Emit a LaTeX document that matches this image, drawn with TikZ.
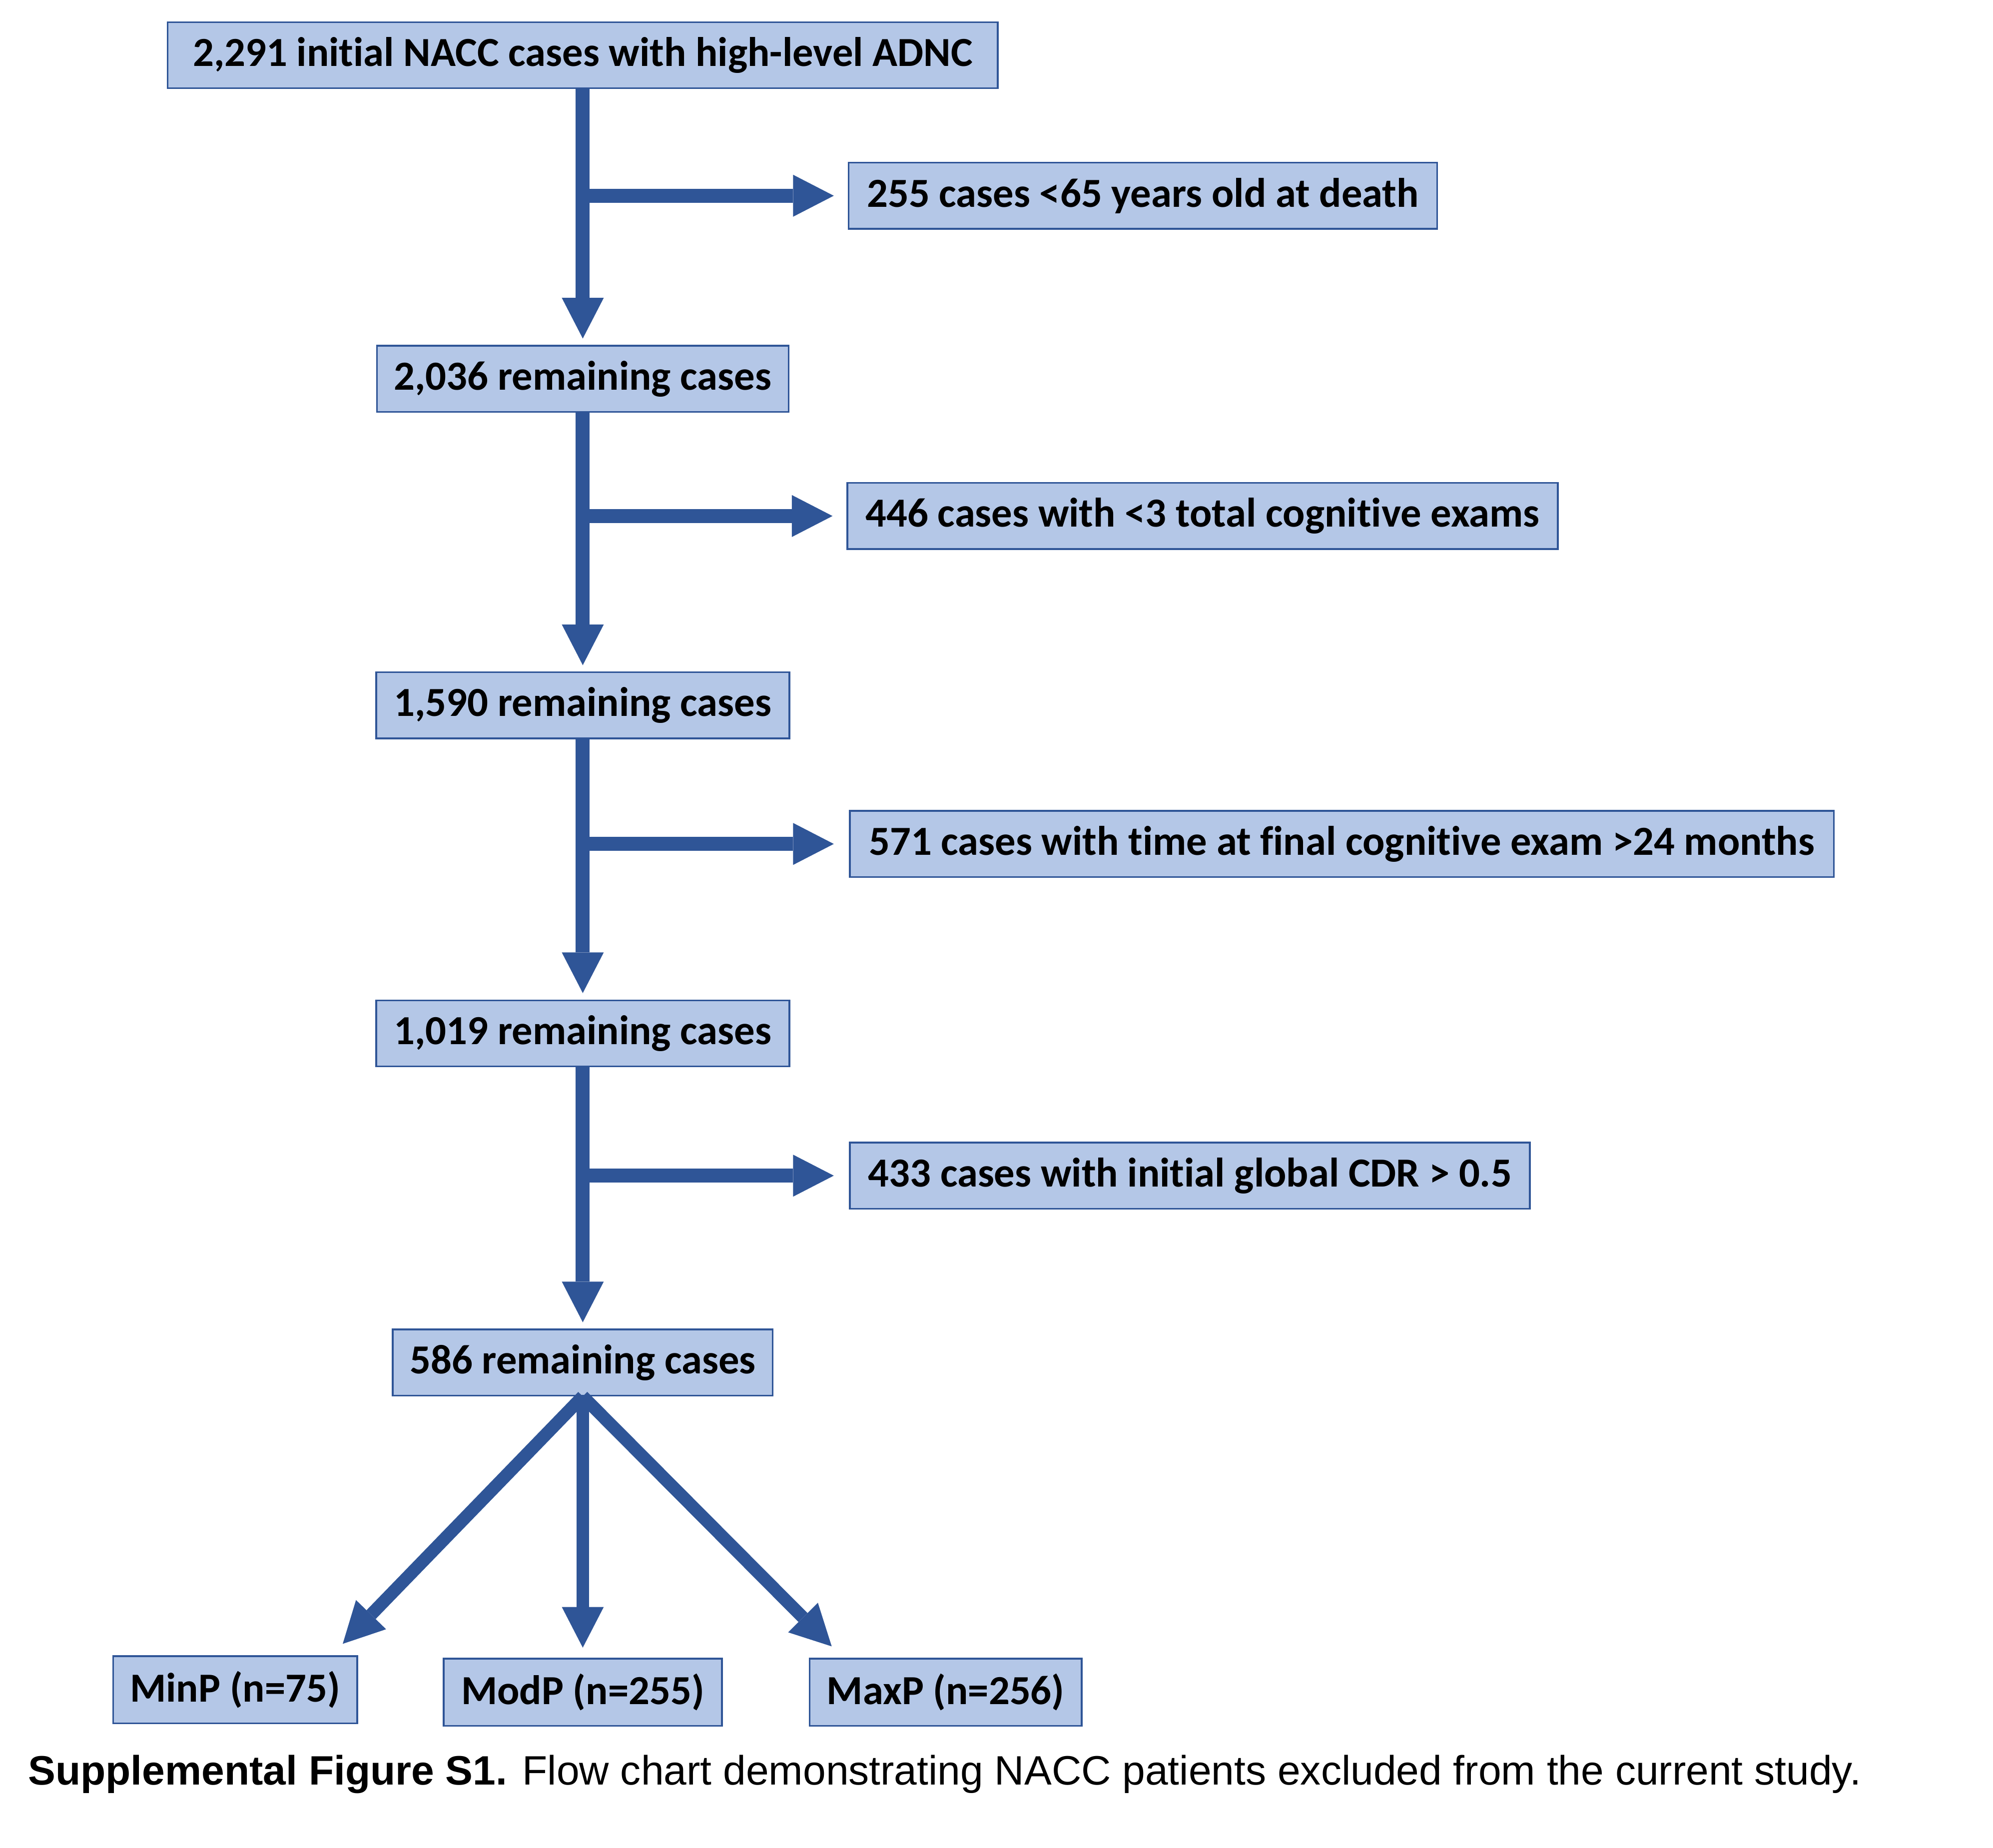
\documentclass[tikz,border=0pt]{standalone}
\usepackage{fontspec}
\setmainfont{Carlito}[Ligatures=NoCommon]
\newfontfamily\capfont{Liberation Sans}
\usepackage{xcolor}
\usepackage{tikz}
\usetikzlibrary{calc}
\usetikzlibrary{arrows.meta}
\definecolor{boxfill}{HTML}{B4C7E7}
\definecolor{boxline}{HTML}{2F5597}
\tikzstyle{box} = [draw=boxline,fill=boxfill,line width=1.3pt,minimum height=52pt,
	inner sep=0pt,font=\fontsize{32.5}{38}\selectfont\bfseries,text=black]
\tikzstyle{flow} = [draw=boxline,line width=11pt,
	-{Triangle[length=32pt,width=33pt,line width=0pt]}]

\begin{document}
\begin{tikzpicture}[x=1pt,y=-1pt]
	\useasboundingbox (0,0) rectangle (1568,1454);

	% main column
	\node[box,minimum width=653pt] (init) at (458.5,43.5) {2,291 initial NACC cases with high-level ADNC};
	\node[box,minimum width=324pt] (rem1) at (458.5,298) {2,036 remaining cases};
	\node[box,minimum width=325pt] (rem2) at (458.5,555) {1,590 remaining cases};
	\node[box,minimum width=325pt] (rem3) at (458.5,813) {1,019 remaining cases};
	\node[box,minimum width=299pt] (rem4) at (458.5,1072) {586 remaining cases};

	% excluded
	\node[box,minimum width=463pt,anchor=west] (exc1) at (667,154) {255 cases <65 years old at death};
	\node[box,minimum width=559pt,anchor=west] (exc2) at (666,406) {446 cases with <3 total cognitive exams};
	\node[box,minimum width=774pt,anchor=west] (exc3) at (668,664) {571 cases with time at final cognitive exam >24 months};
	\node[box,minimum width=535pt,anchor=west] (exc4) at (668,925) {433 cases with initial global CDR > 0.5};

	% groups
	\node[box,minimum width=192pt,minimum height=53pt] (minp) at (185,1329.5) {MinP (n=75)};
	\node[box,minimum width=219pt,minimum height=53pt] (modp) at (458.5,1331.5) {ModP (n=255)};
	\node[box,minimum width=214pt,minimum height=53pt] (maxp) at (744,1331.5) {MaxP (n=256)};

	% arrows
	\draw[flow,shorten >=5pt] (init.south) -- (rem1.north);
	\draw[flow,shorten >=5pt] (rem1.south) -- (rem2.north);
	\draw[flow,shorten >=5pt] (rem2.south) -- (rem3.north);
	\draw[flow,shorten >=5pt] (rem3.south) -- (rem4.north);
	\draw[flow,shorten >=11pt] (init.south |- exc1.west) -- (exc1.west);
	\draw[flow,shorten >=11pt] (rem1.south |- exc2.west) -- (exc2.west);
	\draw[flow,shorten >=12pt] (rem2.south |- exc3.west) -- (exc3.west);
	\draw[flow,shorten >=12pt] (rem3.south |- exc4.west) -- (exc4.west);

	\coordinate (minp-tip) at ($(minp.north east)+(-12,-9)$);
	\coordinate (maxp-tip) at ($(maxp.north west)+(18,-9)$);
	\draw[flow,line width=10pt] (rem4.south) -- (minp-tip);
	\draw[flow,line width=10pt,shorten >=8pt] (rem4.south) -- (modp.north);
	\draw[flow,line width=10pt] (rem4.south) -- (maxp-tip);

	% caption
	\node[anchor=west,inner sep=0pt,font=\capfont\fontsize{32.3}{36}\selectfont] (cap) at (22,1396)
		{\textbf{Supplemental Figure S1.} Flow chart demonstrating NACC patients excluded from the current study.};
\end{tikzpicture}
\end{document}
